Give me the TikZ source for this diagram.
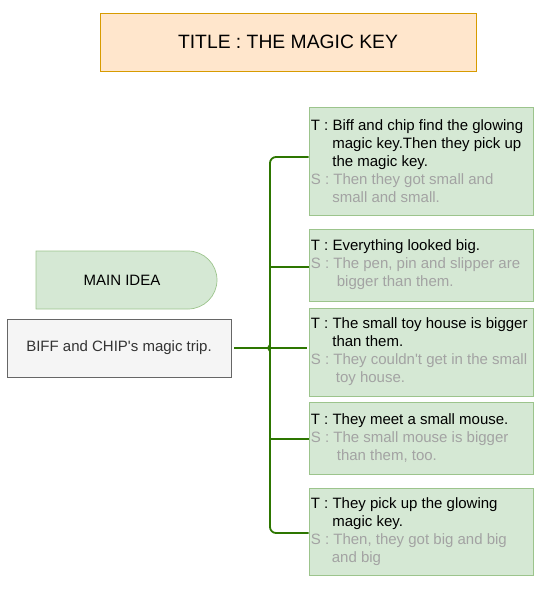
\documentclass[tikz,border=0pt]{standalone}
\usepackage{fontspec}
\setmainfont{Liberation Sans}
\definecolor{gfill}{HTML}{D5E8D4}
\definecolor{gline}{HTML}{9CC48C}
\definecolor{brc}{HTML}{2D7600}
\definecolor{sgrey}{HTML}{A3A3A3}
\definecolor{pfill}{HTML}{FFE6CC}
\definecolor{pline}{HTML}{D79B00}
\definecolor{wfill}{HTML}{F5F5F5}
\definecolor{wline}{HTML}{666666}
\newcommand\hg[1]{\hspace*{#1pt}}
\newcommand\sg[1]{\textcolor{sgrey}{#1}}
\begin{document}
\begin{tikzpicture}[x=1pt,y=-1pt,
  gbox/.style={draw=gline,fill=gfill,line width=0.7pt,minimum width=224pt,inner sep=0pt},
  gtext/.style={anchor=west,align=left,inner sep=0pt,font=\fontsize{15}{18}\selectfont},
  brline/.style={draw=brc,line width=1.8pt}]
\useasboundingbox (0,0) rectangle (551,589);
% title
\node[draw=pline,fill=pfill,line width=0.7pt,minimum width=376pt,minimum height=58pt,inner sep=0pt,font=\fontsize{19.3}{22}\selectfont] (title) at (288,42) {TITLE : THE MAGIC KEY};
% main idea
\draw[draw=gline,fill=gfill,line width=0.7pt] (36,251) -- (188,251) arc[start angle=-90,end angle=90,radius=29] -- (36,309) -- cycle;
\node[font=\fontsize{15}{18}\selectfont,inner sep=0pt] (main) at (122,280) {MAIN IDEA};
% biff box
\node[draw=wline,fill=wfill,line width=0.7pt,minimum width=224pt,minimum height=58pt,inner sep=0pt,text=black!80,font=\fontsize{15}{18}\selectfont] (biff) at (119,348) {BIFF and CHIP\textquotesingle s magic trip.};
% green boxes
\node[gbox,minimum height=108pt] (b1) at (421,161) {};
\node[gbox,minimum height=72pt] (b2) at (421,265) {};
\node[gbox,minimum height=88pt] (b3) at (421,352) {};
\node[gbox,minimum height=72pt] (b4) at (421,438) {};
\node[gbox,minimum height=87pt] (b5) at (421,531.5) {};
\node[gtext] (t1) at ([xshift=2pt]b1.west) {T : Biff and chip find the glowing\\\hg{21.5}magic key.Then they pick up\\\hg{21.5}the magic key.\\\sg{S : Then they got small and}\\\hg{21.5}\sg{small and small.}};
\node[gtext] (t2) at ([xshift=2pt]b2.west) {T : Everything looked big.\\\sg{S : The pen, pin and slipper are}\\\hg{26}\sg{bigger than them.}};
\node[gtext] (t3) at ([xshift=2pt]b3.west) {T : The small toy house is bigger\\\hg{21.5}than them.\\\sg{S : They couldn\textquotesingle t get in the small}\\\hg{25}\sg{toy house.}};
\node[gtext] (t4) at ([xshift=2pt]b4.west) {T : They meet a small mouse.\\\sg{S : The small mouse is bigger}\\\hg{26}\sg{than them, too.}};
\node[gtext] (t5) at ([xshift=2pt]b5.west) {T : They pick up the glowing\\\hg{21.5}magic key.\\\sg{S : Then, they got big and big}\\\hg{21}\sg{and big}};
% bracket
\coordinate (br) at (270,348);
\coordinate (btop) at ([yshift=4pt]b1.west);
\coordinate (bbot) at ([yshift=-1.5pt]b5.west);
\draw[brline,rounded corners=6pt] (btop) -| (br) |- (bbot);
\draw[brline] ([yshift=-2pt]b2.west) -- ([yshift=-2pt]b2.west -| br);
\draw[brline] ([yshift=-1pt]b4.west) -- ([yshift=-1pt]b4.west -| br);
\draw[brline] ([xshift=3pt]biff.east) -- (br) -- ([xshift=-2pt]b3.west |- br);
\draw[brc,line width=1pt] ([yshift=-4pt]br) -- ([xshift=-2.5pt]br) -- ([yshift=4pt]br);
\end{tikzpicture}
\end{document}
